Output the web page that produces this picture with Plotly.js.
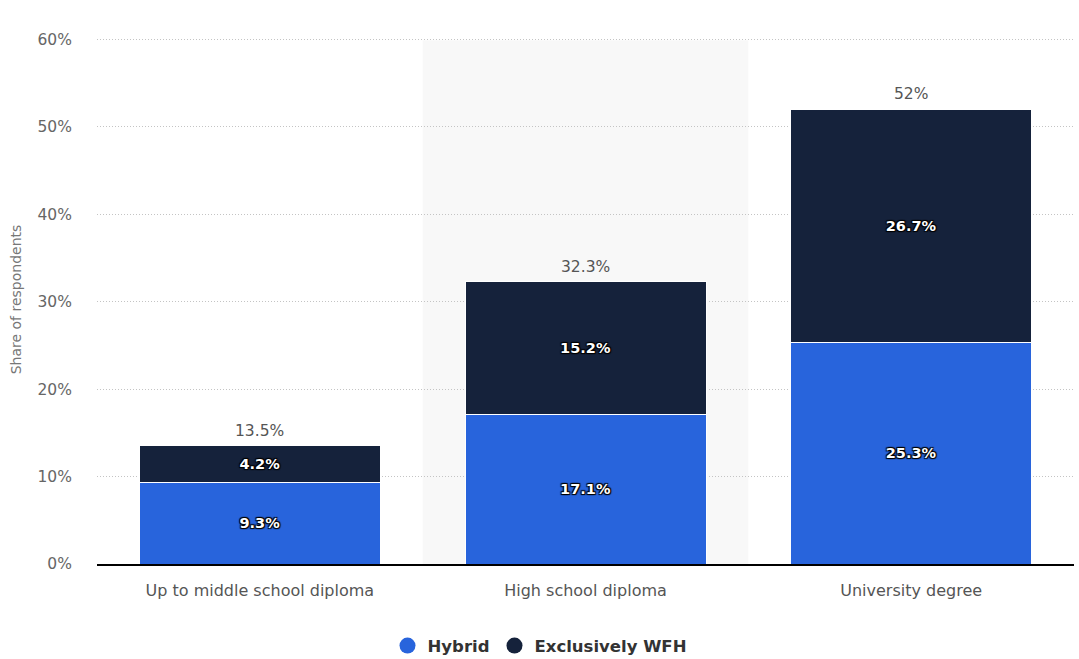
<!DOCTYPE html>
<html>
<head>
<meta charset="utf-8">
<script src="https://cdn.plot.ly/plotly-3.0.1.min.js"></script>
<style>html,body{margin:0;padding:0;background:#fff;}#chart{width:1079px;height:659px;}</style>
</head>
<body>
<div id="chart"></div>
<script>
const categories = ["Up to middle school diploma", "High school diploma", "University degree"];
const hybrid = [9.3, 17.1, 25.3];
const exclusivelyWFH = [4.2, 15.2, 26.7];
const totals = [13.5, 32.3, 52];
const yTickVals = [0, 10, 20, 30, 40, 50, 60];
const yTickText = ["0%", "10%", "20%", "30%", "40%", "50%", "60%"];

const FONT = "DejaVu Sans, Verdana, sans-serif";
const C_HYB = "#2864dc";
const C_WFH = "#15223b";
const inside = {family: FONT, size: 14.5, color: "#ffffff", weight: 700,
  shadow: "1px 1px 1px #000, -1px -1px 1px #000, 1px -1px 1px #000, -1px 1px 1px #000"};

const traces = [
  {type: "bar", x: categories, y: hybrid, name: "Hybrid", showlegend: false,
   marker: {color: C_HYB, line: {color: "#ffffff", width: 1}},
   text: hybrid.map(v => v + "%"), textposition: "inside", insidetextanchor: "middle",
   textangle: 0, textfont: inside, hoverinfo: "skip", width: 0.74},
  {type: "bar", x: categories, y: exclusivelyWFH, name: "Exclusively WFH", showlegend: false,
   marker: {color: C_WFH, line: {color: "#ffffff", width: 1}},
   text: exclusivelyWFH.map(v => v + "%"), textposition: "inside", insidetextanchor: "middle",
   textangle: 0, textfont: inside, hoverinfo: "skip", width: 0.74},
  {type: "scatter", mode: "markers", x: [categories[0]], y: [null], name: "Hybrid",
   marker: {color: C_HYB, size: 18, symbol: "circle"}},
  {type: "scatter", mode: "markers", x: [categories[0]], y: [null], name: "Exclusively WFH",
   marker: {color: C_WFH, size: 18, symbol: "circle"}}
];

const annotations = categories.map((c, i) => ({
  x: c, y: totals[i], xref: "x", yref: "y", text: totals[i] + "%",
  showarrow: false, yanchor: "bottom", yshift: 4,
  font: {family: FONT, size: 15.5, color: "#555"}
}));

const layout = {
  width: 1079, height: 659,
  margin: {l: 97, r: 5, t: 35, b: 95, autoexpand: false},
  paper_bgcolor: "#ffffff", plot_bgcolor: "rgba(0,0,0,0)",
  barmode: "stack",
  font: {family: FONT, color: "#666"},
  showlegend: true,
  legend: {orientation: "h", traceorder: "normal", xref: "container", x: 0.5, xanchor: "center",
    yref: "container", y: 0.02, yanchor: "middle", font: {family: FONT, size: 16.5, color: "#333", weight: 700},
    itemwidth: 30},
  annotations: annotations,
  xaxis: {type: "category", showgrid: false, zeroline: false, automargin: false,
    showline: true, linecolor: "#000", linewidth: 1.5, tickangle: 0,
    ticks: "outside", ticklen: 11, tickcolor: "rgba(0,0,0,0)",
    tickfont: {family: FONT, size: 16, color: "#555"}, range: [-0.5, 2.5], fixedrange: true},
  yaxis: {range: [0, 60.5], tickvals: yTickVals, ticktext: yTickText, automargin: false,
    showgrid: true, gridcolor: "#c4c4c4", griddash: "1px,2px", gridwidth: 1,
    zeroline: false, showline: false,
    ticks: "outside", ticklen: 21, tickcolor: "rgba(0,0,0,0)",
    tickfont: {family: FONT, size: 15.5, color: "#666"},
    title: {text: "Share of respondents", font: {family: FONT, size: 14, color: "#777"}, standoff: 12},
    fixedrange: true},
  shapes: [{type: "rect", xref: "x", yref: "paper", x0: 0.5, x1: 1.5, y0: 0, y1: 0.99,
    fillcolor: "#f8f8f8", line: {width: 0}, layer: "below"}]
};

Plotly.newPlot("chart", traces, layout, {displayModeBar: false, staticPlot: true});
</script>
</body>
</html>
